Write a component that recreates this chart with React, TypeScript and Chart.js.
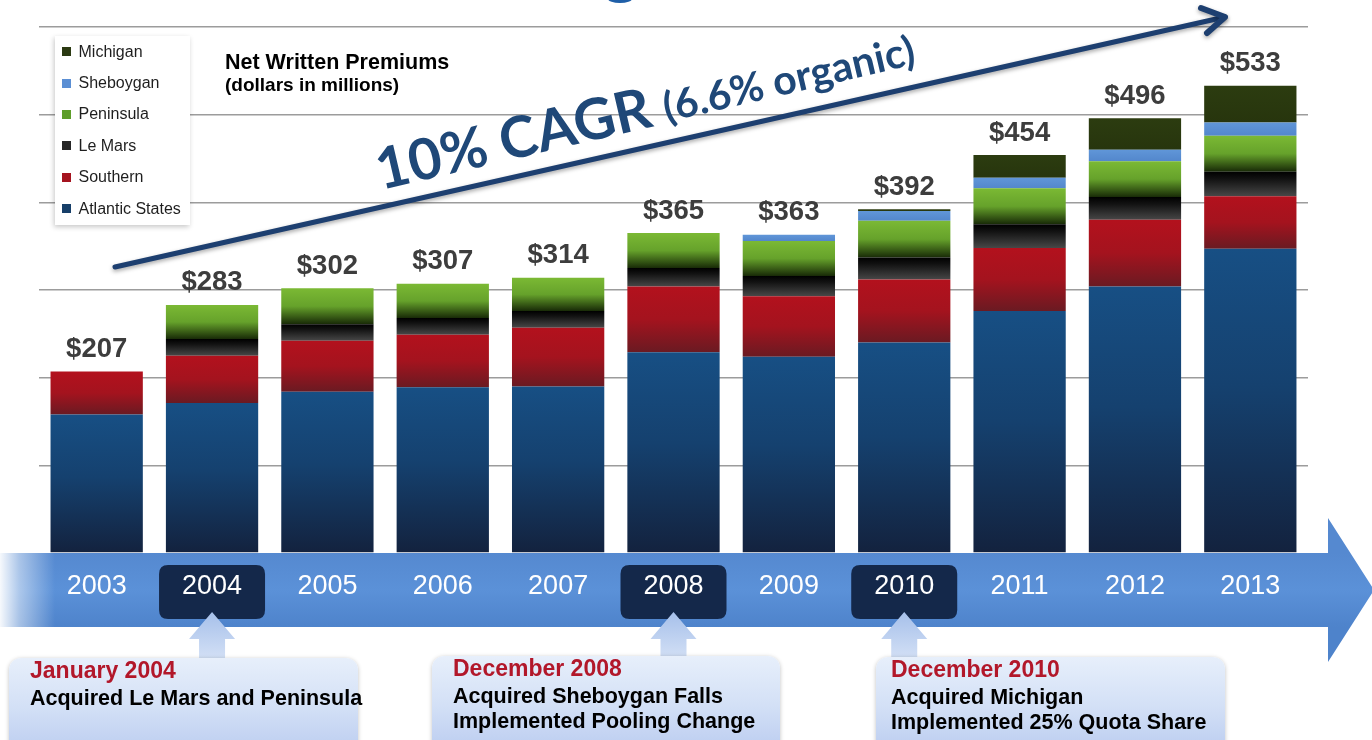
import React, { useEffect, useRef } from 'react';
import { Chart, registerables } from 'chart.js';

Chart.register(...registerables);

// ---------- data ----------
const years = ['2003', '2004', '2005', '2006', '2007', '2008', '2009', '2010', '2011', '2012', '2013'];
const atlanticStates = [158, 171, 184, 189, 190, 229, 224, 240, 276, 304, 347];
const southern = [49, 54, 58, 60, 67, 75, 69, 72, 72, 76, 60];
const leMars = [0, 19, 19, 19, 19, 21, 23, 25, 27, 26, 28];
const peninsula = [0, 39, 41, 39, 38, 40, 40, 42, 41, 41, 41];
const sheboygan = [0, 0, 0, 0, 0, 0, 7, 11, 12, 13, 15];
const michigan = [0, 0, 0, 0, 0, 0, 0, 2, 26, 36, 42];
const totalLabels = ['$207', '$283', '$302', '$307', '$314', '$365', '$363', '$392', '$454', '$496', '$533'];
const highlightYears = ['2004', '2008', '2010'];

const seriesNames = ['Atlantic States', 'Southern', 'Le Mars', 'Peninsula', 'Sheboygan', 'Michigan'];
const seriesValues = [atlanticStates, southern, leMars, peninsula, sheboygan, michigan];

// ---------- styles ----------
const seriesStops: [number, string][][] = [
  [[0, '#174f84'], [0.45, '#15416f'], [1, '#13223e']],
  [[0, '#b3111d'], [0.5, '#a4131e'], [1, '#6a1a22']],
  [[0, '#000000'], [0.3, '#121212'], [1, '#474747']],
  [[0, '#7bb934'], [0.5, '#66a22b'], [1, '#182a07']],
  [[0, '#6096d8'], [1, '#5387cc']],
  [[0, '#2c3c10'], [1, '#27350d']],
];
const legendColors = ['#173f69', '#a5141f', '#262626', '#5e9e2a', '#5b8fd4', '#2b3a12'];

const FONT = '"Liberation Sans", Arial, sans-serif';

function segmentFill(c: any, i: number) {
  const chart = c.chart;
  const stops = seriesStops[i];
  const y = chart.scales && chart.scales.y;
  if (!y || c.type !== 'data' || !chart.chartArea) return stops[0][1];
  const j = c.dataIndex;
  let base = 0;
  for (let k = 0; k < i; k++) base += seriesValues[k][j];
  const top = base + seriesValues[i][j];
  const y0 = y.getPixelForValue(top);
  const y1 = y.getPixelForValue(base);
  if (!isFinite(y0) || !isFinite(y1) || y1 - y0 < 0.5) return stops[0][1];
  const g = chart.ctx.createLinearGradient(0, y0, 0, y1);
  stops.forEach(([o, col]) => g.addColorStop(o, col));
  return g;
}

function rr(ctx: CanvasRenderingContext2D, x: number, y: number, w: number, h: number, r: number) {
  ctx.beginPath();
  ctx.moveTo(x + r, y);
  ctx.lineTo(x + w - r, y);
  ctx.quadraticCurveTo(x + w, y, x + w, y + r);
  ctx.lineTo(x + w, y + h - r);
  ctx.quadraticCurveTo(x + w, y + h, x + w - r, y + h);
  ctx.lineTo(x + r, y + h);
  ctx.quadraticCurveTo(x, y + h, x, y + h - r);
  ctx.lineTo(x, y + r);
  ctx.quadraticCurveTo(x, y, x + r, y);
  ctx.closePath();
}

const decor = {
  id: 'decor',
  beforeDraw(chart: any) {
    const { ctx, scales } = chart;
    const area = chart.chartArea;
    const bodyTop = area.bottom;
    const bodyBot = bodyTop + 74;
    const headX = 1328;
    ctx.save();
    // timeline arrow
    const g = ctx.createLinearGradient(0, bodyTop, 0, bodyBot);
    g.addColorStop(0, '#5589d0');
    g.addColorStop(0.5, '#5b91d8');
    g.addColorStop(1, '#4e83cb');
    ctx.fillStyle = g;
    ctx.beginPath();
    ctx.moveTo(0, bodyTop);
    ctx.lineTo(headX, bodyTop);
    ctx.lineTo(headX, bodyTop - 35);
    ctx.lineTo(1374, (bodyTop + bodyBot) / 2);
    ctx.lineTo(headX, bodyBot + 35);
    ctx.lineTo(headX, bodyBot);
    ctx.lineTo(0, bodyBot);
    ctx.closePath();
    ctx.fill();
    const fade = ctx.createLinearGradient(0, 0, 55, 0);
    fade.addColorStop(0, 'rgba(255,255,255,0.95)');
    fade.addColorStop(0.35, 'rgba(255,255,255,0.5)');
    fade.addColorStop(1, 'rgba(255,255,255,0)');
    ctx.fillStyle = fade;
    ctx.fillRect(0, bodyTop, 55, bodyBot - bodyTop);
    // highlighted year boxes
    ctx.fillStyle = '#14284a';
    highlightYears.forEach((yr) => {
      const idx = years.indexOf(yr);
      const x = scales.x.getPixelForValue(idx);
      rr(ctx, x - 53, bodyTop + 12, 106, 54, 9);
      ctx.fill();
    });
    ctx.restore();
  },
  afterDraw(chart: any) {
    const { ctx, scales } = chart;
    const area = chart.chartArea;
    ctx.save();
    // total labels
    ctx.fillStyle = '#3d3d3d';
    ctx.font = `bold 27.5px ${FONT}`;
    ctx.textAlign = 'center';
    ctx.textBaseline = 'middle';
    years.forEach((_, j) => {
      let sum = 0;
      seriesValues.forEach((s) => (sum += s[j]));
      const x = scales.x.getPixelForValue(j);
      const y = scales.y.getPixelForValue(sum);
      ctx.fillText(totalLabels[j], x, y - 22);
    });
    // small up arrows under highlighted years
    highlightYears.forEach((yr) => {
      const idx = years.indexOf(yr);
      const x = scales.x.getPixelForValue(idx);
      const tip = area.bottom + 59;
      const hb = tip + 27;
      const g = ctx.createLinearGradient(0, tip, 0, tip + 50);
      g.addColorStop(0, '#a6c0ea');
      g.addColorStop(1, '#d6e2f6');
      ctx.fillStyle = g;
      ctx.beginPath();
      ctx.moveTo(x, tip);
      ctx.lineTo(x + 23, hb);
      ctx.lineTo(x + 13, hb);
      ctx.lineTo(x + 13, tip + 55);
      ctx.lineTo(x - 13, tip + 55);
      ctx.lineTo(x - 13, hb);
      ctx.lineTo(x - 23, hb);
      ctx.closePath();
      ctx.fill();
    });
    // CAGR trend arrow
    const x0 = 115, y0 = 267, x1 = 1225, y1 = 17;
    ctx.strokeStyle = '#1d3f70';
    ctx.lineCap = 'round';
    ctx.lineJoin = 'round';
    ctx.shadowColor = 'rgba(0,0,0,0.35)';
    ctx.shadowBlur = 4;
    ctx.shadowOffsetY = 2;
    ctx.lineWidth = 5;
    ctx.beginPath();
    ctx.moveTo(x0, y0);
    ctx.lineTo(x1, y1);
    ctx.stroke();
    ctx.lineWidth = 6;
    ctx.beginPath();
    ctx.moveTo(1201, 8);
    ctx.lineTo(x1, y1);
    ctx.lineTo(1207, 33);
    ctx.stroke();
    ctx.shadowColor = 'rgba(0,0,0,0)';
    // CAGR text
    const ang = Math.atan2(y1 - y0, x1 - x0) - 0.008;
    ctx.translate(381, 190);
    ctx.rotate(ang);
    ctx.fillStyle = '#1f4878';
    ctx.textAlign = 'left';
    ctx.textBaseline = 'alphabetic';
    ctx.font = 'bold 57px Lato, "Open Sans", sans-serif';
    const big = '10% CAGR';
    ctx.fillText(big, 0, 0);
    const w = ctx.measureText(big).width;
    ctx.font = 'bold 41px Lato, "Open Sans", sans-serif';
    ctx.fillText('(6.6% organic)', w + 13, -1);
    ctx.restore();
    // fragment of title letter at top edge
    ctx.save();
    ctx.fillStyle = '#1f5fa8';
    ctx.beginPath();
    ctx.ellipse(620, -1, 12, 4, 0, 0, Math.PI * 2);
    ctx.fill();
    ctx.restore();
  },
};

const legendOrder = [5, 4, 3, 2, 1, 0];

const notes = [
  { left: 9, top: 658, width: 349, textLeft: 30, head: 'January 2004', lines: ['Acquired Le Mars and Peninsula'] },
  { left: 432, top: 656, width: 348, textLeft: 453, head: 'December 2008', lines: ['Acquired Sheboygan Falls', 'Implemented Pooling Change'] },
  { left: 876, top: 657, width: 349, textLeft: 891, head: 'December 2010', lines: ['Acquired Michigan', 'Implemented 25% Quota Share'] },
];

export default function App() {
  const ref = useRef<HTMLCanvasElement | null>(null);
  useEffect(() => {
    if (!ref.current) return;
    const chart = new Chart(ref.current, {
      type: 'bar',
      data: {
        labels: years,
        datasets: seriesValues.map((v, i) => ({
          label: seriesNames[i],
          data: v,
          backgroundColor: (c: any) => segmentFill(c, i),
          borderWidth: 0,
          categoryPercentage: 0.8,
          barPercentage: 1,
        })),
      },
      options: {
        responsive: false,
        animation: false,
        layout: { padding: { left: 39, right: 64, top: 27, bottom: 0 } },
        plugins: { legend: { display: false }, tooltip: { enabled: false } },
        scales: {
          x: {
            stacked: true,
            grid: { display: false },
            border: { display: false },
            ticks: { color: '#ffffff', font: { family: FONT, size: 27 }, padding: 9, maxRotation: 0, autoSkip: false },
            afterFit: (s: any) => { s.height = 187; },
          },
          y: {
            stacked: true,
            min: 0,
            max: 600,
            ticks: { display: false, stepSize: 100 },
            grid: {
              color: (c: any) => (c.tick && c.tick.value === 0 ? 'rgba(0,0,0,0)' : '#9c9c9c'),
              lineWidth: 1.5,
              drawTicks: false,
            },
            border: { display: false },
            afterFit: (s: any) => { s.width = 0; },
          },
        },
      } as any,
      plugins: [decor],
    });
    return () => chart.destroy();
  }, []);

  return (
    <div style={{ position: 'fixed', left: 0, top: 0, width: 1372, height: 740, overflow: 'hidden', background: '#fff', fontFamily: FONT }}>
      <canvas ref={ref} width={1372} height={740} style={{ position: 'absolute', left: 0, top: 0, display: 'block' }} />
      {/* legend */}
      <div style={{ position: 'absolute', left: 55, top: 36, width: 135, height: 189, background: '#fff', boxShadow: '-1px 2px 5px rgba(0,0,0,0.22)' }}>
        {legendOrder.map((i) => (
          <div key={i} style={{ height: 31.4, display: 'flex', alignItems: 'center', position: 'relative' }}>
            <div style={{ position: 'absolute', left: 7, width: 9, height: 9, background: legendColors[i] }} />
            <div style={{ position: 'absolute', left: 23.5, fontSize: 16, color: '#1e1e1e', lineHeight: '18px', whiteSpace: 'nowrap' }}>{seriesNames[i]}</div>
          </div>
        ))}
      </div>
      {/* title */}
      <div style={{ position: 'absolute', left: 225, top: 52, fontSize: 21.5, lineHeight: '21px', fontWeight: 'bold', color: '#000', whiteSpace: 'nowrap' }}>Net Written Premiums</div>
      <div style={{ position: 'absolute', left: 225, top: 75, fontSize: 19, lineHeight: '19px', fontWeight: 'bold', color: '#000', whiteSpace: 'nowrap' }}>(dollars in millions)</div>
      {/* annotation boxes */}
      {notes.map((n, k) => (
        <React.Fragment key={k}>
          <div style={{ position: 'absolute', left: n.left, top: n.top, width: n.width, height: 110, borderRadius: 12, background: 'linear-gradient(to bottom, #e7effb 0%, #d3e0f6 45%, #b3c6ee 100%)', boxShadow: '0 1px 4px rgba(0,0,0,0.25)' }} />
          <div style={{ position: 'absolute', left: n.textLeft, top: n.top + 1, fontSize: 23, lineHeight: '23px', fontWeight: 'bold', color: '#b2172a', whiteSpace: 'nowrap' }}>{n.head}</div>
          {n.lines.map((ln, q) => (
            <div key={q} style={{ position: 'absolute', left: n.textLeft, top: n.top + 30 + q * 25, fontSize: 21.5, lineHeight: '21.5px', fontWeight: 'bold', color: '#000', whiteSpace: 'nowrap' }}>{ln}</div>
          ))}
        </React.Fragment>
      ))}
    </div>
  );
}
